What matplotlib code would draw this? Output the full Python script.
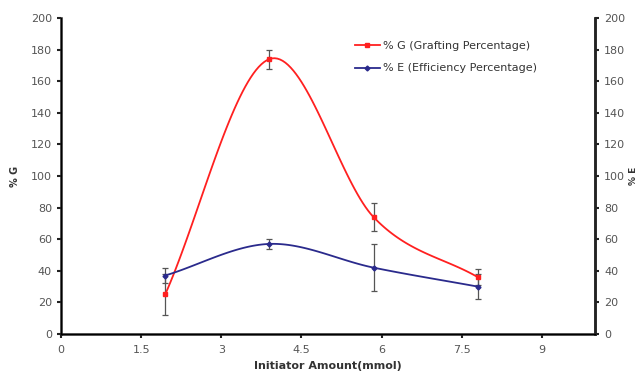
import numpy as np
import matplotlib
matplotlib.use("Agg")
import matplotlib.pyplot as plt

# values
amount = [1.95, 3.9, 5.85, 7.8]
grafting = [25, 174, 74, 36]
grafting_err = [13, 6, 9, 5]
efficiency = [37, 57, 42, 30]
efficiency_err = [4.5, 3, 15, 8]
x_ticks = [0, 1.5, 3, 4.5, 6, 7.5, 9]
y_ticks = list(range(0, 201, 20))


def smooth(xs, ys, n=40):
    # catmull-rom curve through the points, like excel's smoothed line
    xs = np.asarray(xs, float)
    ys = np.asarray(ys, float)
    px = np.concatenate([[2 * xs[0] - xs[1]], xs, [2 * xs[-1] - xs[-2]]])
    py = np.concatenate([[2 * ys[0] - ys[1]], ys, [2 * ys[-1] - ys[-2]]])
    out_x, out_y = [], []
    t = np.linspace(0, 1, n)
    for i in range(1, len(px) - 2):
        for arr, out in ((px, out_x), (py, out_y)):
            p0, p1, p2, p3 = arr[i - 1], arr[i], arr[i + 1], arr[i + 2]
            seg = 0.5 * ((2 * p1) + (-p0 + p2) * t
                         + (2 * p0 - 5 * p1 + 4 * p2 - p3) * t ** 2
                         + (-p0 + 3 * p1 - 3 * p2 + p3) * t ** 3)
            out.extend(seg)
    return np.array(out_x), np.array(out_y)


plt.rcParams['font.family'] = ['DejaVu Sans']
fig = plt.figure(figsize=(6.39, 3.83), dpi=100)
ax = fig.add_axes([0.0955, 0.128, 0.836, 0.825])

red = '#ff2020'
navy = '#2a2a8c'

gx, gy = smooth(amount, grafting)
ex, ey = smooth(amount, efficiency)
ax.plot(gx, gy, color=red, lw=1.3, zorder=3)
ax.plot(ex, ey, color=navy, lw=1.3, zorder=3)
ax.errorbar(amount, grafting, yerr=grafting_err, fmt='none', ecolor='#555555',
            elinewidth=0.9, capsize=2.5, capthick=0.9, zorder=2)
ax.errorbar(amount, efficiency, yerr=efficiency_err, fmt='none', ecolor='#555555',
            elinewidth=0.9, capsize=2.5, capthick=0.9, zorder=2)
ax.plot(amount, grafting, 's', color=red, ms=3.5, zorder=4)
ax.plot(amount, efficiency, 'D', color=navy, ms=2.5, zorder=4)

# legend proxies
h1, = ax.plot([], [], '-s', color=red, ms=3, lw=1.3)
h2, = ax.plot([], [], '-D', color=navy, ms=2.5, lw=1.3)
leg = ax.legend([h1, h2], ['% G (Grafting Percentage)', '% E (Efficiency Percentage)'],
                loc='upper left', bbox_to_anchor=(0.532, 0.958),
                frameon=False, fontsize=8, handlelength=2.2, labelspacing=1.1,
                handletextpad=0.3)
for t in leg.get_texts():
    t.set_color('#333333')

ax.set_xlim(0, 10)
ax.set_ylim(0, 200)
ax.set_xticks(x_ticks)
ax.set_xticklabels([str(v) for v in x_ticks])
ax.set_yticks(y_ticks)

ax.spines['top'].set_visible(False)
for s in ('left', 'bottom', 'right'):
    ax.spines[s].set_linewidth(1.8)
    ax.spines[s].set_color('#222222')

ax.tick_params(axis='both', labelsize=8, colors='#222222', labelcolor='#555555',
               width=1.5, length=3)
ax.tick_params(axis='x', pad=5)

ax.set_xlabel('Initiator Amount(mmol)', fontsize=8, fontweight='bold', color='#333333')
ax.set_ylabel('% G', fontsize=7, fontweight='bold', color='#333333', labelpad=8)

ax2 = ax.twinx()
ax2.set_ylim(0, 200)
ax2.set_yticks(y_ticks)
ax2.spines['top'].set_visible(False)
ax2.spines['right'].set_linewidth(1.8)
ax2.spines['right'].set_color('#222222')
ax2.tick_params(axis='y', labelsize=8, colors='#222222', labelcolor='#555555',
                width=1.5, length=3)
fig.text(633 / 639, 1 - 176 / 383, '% E', rotation=90, fontsize=6.5,
         fontweight='bold', color='#333333', ha='center', va='center')

fig.savefig('out.png', dpi=100)
